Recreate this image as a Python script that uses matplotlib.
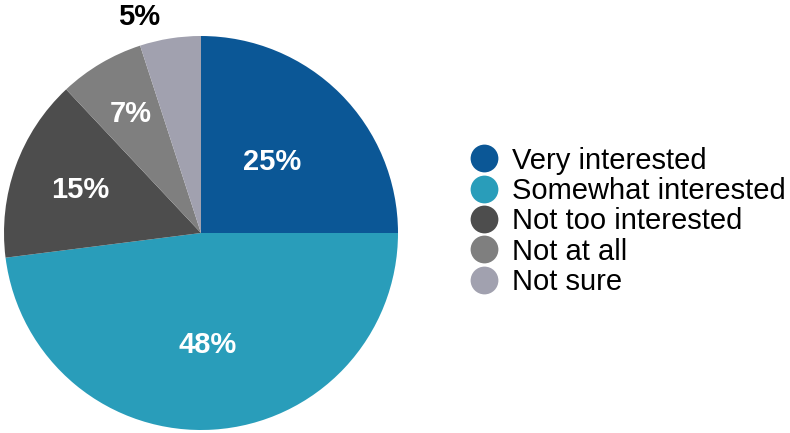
import numpy as np
from matplotlib import pyplot as plt
from matplotlib.lines import Line2D

plt.rcParams['font.family'] = ['Liberation Sans', 'DejaVu Sans']

labels = ["Very interested", "Somewhat interested", "Not too interested", "Not at all", "Not sure"]
shares = [25, 48, 15, 7, 5]
colors = ["#0b5796", "#299dba", "#4d4d4d", "#7f7f7f", "#a1a1af"]

# radial position of each percentage label, plus a small angular nudge (deg)
label_r = [0.51, 0.57, 0.65, 0.70, 1.14]
label_nudge = [0, 0, 0, 0, 7]

fig = plt.figure(figsize=(7.9, 4.33), dpi=100)
ax = fig.add_axes([4 / 790, 3 / 433, 394 / 790, 394 / 433])

wedges, _ = ax.pie(shares, colors=colors, startangle=90, counterclock=False,
                   radius=1.0, wedgeprops={"linewidth": 0})
ax.set_xlim(-1, 1)
ax.set_ylim(-1, 1)
ax.set_aspect("equal")
ax.axis("off")

for w, v, r, nud in zip(wedges, shares, label_r, label_nudge):
    ang = np.deg2rad((w.theta1 + w.theta2) / 2 + nud)
    col = "white" if r < 1 else "black"
    ax.text(r * np.cos(ang), r * np.sin(ang), "{}%".format(v), ha="center", va="center",
            fontsize=21, fontweight="bold", color=col, clip_on=False)

handles = [Line2D([], [], marker="o", linestyle="none", markersize=20,
                  markerfacecolor=c, markeredgewidth=0) for c in colors]
fig.legend(handles, labels, loc="upper left", bbox_to_anchor=(458 / 790, 1 - 135 / 433),
           frameon=False, fontsize=21, handletextpad=0.45, labelspacing=0.08,
           borderaxespad=0, handlelength=1.0)

fig.savefig("out.png", dpi=100)
